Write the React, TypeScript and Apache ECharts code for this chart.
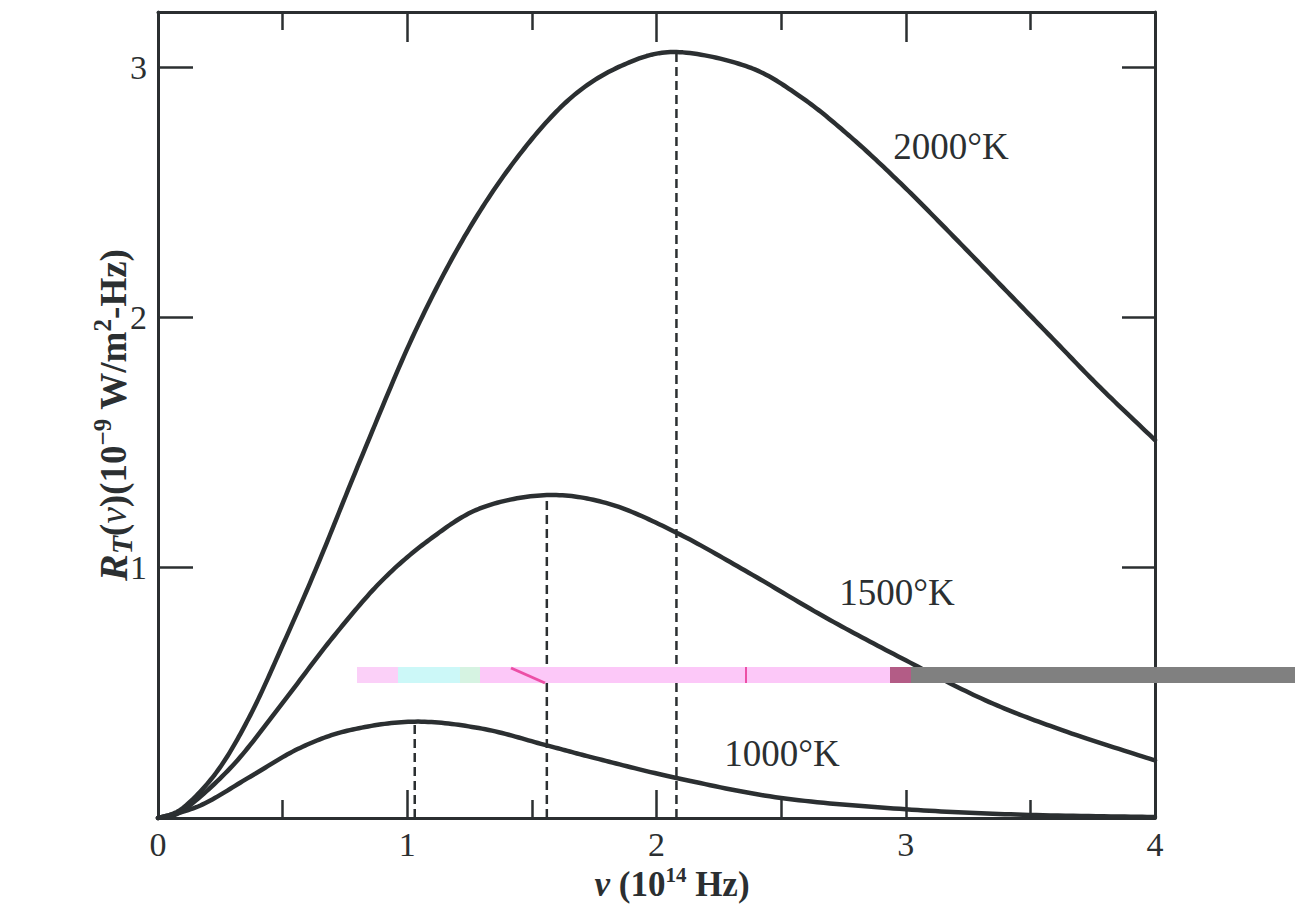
import React, { useEffect, useRef } from "react";
import * as echarts from "echarts";

// ---- data ----
const xTickValues = [0, 1, 2, 3, 4];
const yTickValues = [1, 2, 3];

const nu2000 = [0, 0.1, 0.24, 0.37, 0.5, 0.64, 0.82, 1.03, 1.24, 1.45, 1.66, 1.87, 2.08, 2.37, 2.58, 2.78, 2.98, 3.18, 3.38, 3.58, 3.78, 4.0];
const r2000 = [0, 0.04, 0.19, 0.41, 0.69, 1.01, 1.45, 1.94, 2.34, 2.65, 2.88, 3.01, 3.06, 3.0, 2.88, 2.72, 2.535, 2.335, 2.13, 1.925, 1.72, 1.51];

const nu1500 = [0, 0.1, 0.3, 0.5, 0.7, 0.9, 1.1, 1.3, 1.56, 1.81, 2.08, 2.37, 2.68, 3.0, 3.32, 3.63, 4.0];
const r1500 = [0, 0.03, 0.21, 0.46, 0.72, 0.95, 1.12, 1.24, 1.29, 1.255, 1.14, 0.98, 0.8, 0.63, 0.47, 0.35, 0.23];

const nu1000 = [0, 0.17, 0.37, 0.57, 0.77, 1.03, 1.3, 1.56, 1.77, 2.08, 2.5, 3.0, 3.47, 4.0];
const r1000 = [0, 0.05, 0.165, 0.28, 0.351, 0.385, 0.357, 0.29, 0.235, 0.16, 0.08, 0.035, 0.013, 0.004];

const curveNames = ["2000°K", "1500°K", "1000°K"];
const peakNu = [2.08, 1.56, 1.03];
const peakR = [3.06, 1.29, 0.385];

const INK = "#2b2f31";
const SERIF = "'Liberation Serif', 'DejaVu Serif', serif";

// Smooth curve through the data points (Catmull-Rom in pixel space, via the axes' scales)
function makeRenderCurve(nu: number[], r: number[]) {
  return (params: any, api: any) => {
    if (params.dataIndex !== 0) return null;
    const pts: number[][] = nu.map((v, i) => api.coord([v, r[i]]));
    const out: number[][] = [];
    const n = pts.length;
    for (let i = 0; i < n - 1; i++) {
      const p0 = pts[Math.max(i - 1, 0)];
      const p1 = pts[i];
      const p2 = pts[i + 1];
      const p3 = pts[Math.min(i + 2, n - 1)];
      const c1 = [p1[0] + (p2[0] - p0[0]) / 6, p1[1] + (p2[1] - p0[1]) / 6];
      const c2 = [p2[0] - (p3[0] - p1[0]) / 6, p2[1] - (p3[1] - p1[1]) / 6];
      const steps = 20;
      for (let s = 0; s < steps; s++) {
        const t = s / steps;
        const a = (1 - t) * (1 - t) * (1 - t);
        const b = 3 * (1 - t) * (1 - t) * t;
        const c = 3 * (1 - t) * t * t;
        const d = t * t * t;
        out.push([
          a * p1[0] + b * c1[0] + c * c2[0] + d * p2[0],
          a * p1[1] + b * c1[1] + c * c2[1] + d * p2[1],
        ]);
      }
    }
    out.push(pts[n - 1]);
    return {
      type: "polyline",
      silent: true,
      shape: { points: out },
      style: { stroke: INK, lineWidth: 4.5, fill: "none", lineJoin: "round", lineCap: "round" },
    };
  };
}

export default function App() {
  const ref = useRef<HTMLDivElement>(null);

  useEffect(() => {
    document.body.style.margin = "0";
    if (!ref.current) return;
    const chart = echarts.init(ref.current, null, { renderer: "svg" });

    const curves = [
      { nu: nu2000, r: r2000 },
      { nu: nu1500, r: r1500 },
      { nu: nu1000, r: r1000 },
    ];

    const curveSeries = curves.map((c, k) => ({
      name: curveNames[k],
      type: "custom",
      xAxisIndex: 0,
      yAxisIndex: 0,
      data: c.nu.map((v, i) => [v, c.r[i]]),
      encode: { x: 0, y: 1 },
      renderItem: makeRenderCurve(c.nu, c.r),
      z: 3,
    }));

    const dashSeries = peakNu.map((v, i) => ({
      name: curveNames[i] + " peak",
      type: "line",
      data: [
        [v, 0],
        [v, peakR[i]],
      ],
      showSymbol: false,
      lineStyle: { color: INK, width: 2.5, type: [9, 5] },
      z: 2,
    }));

    const baseAxisLine = { show: true, onZero: false, lineStyle: { color: INK, width: 3 } };

    const option: any = {
      animation: false,
      backgroundColor: "#ffffff",
      grid: { left: 158, right: 144, top: 12, bottom: 93, containLabel: false },
      xAxis: [
        {
          type: "value",
          position: "bottom",
          min: 0,
          max: 4,
          interval: 1,
          axisLine: baseAxisLine,
          axisTick: { show: true, inside: true, length: 28, lineStyle: { color: INK, width: 2.5 } },
          minorTick: { show: true, splitNumber: 2, length: 18, lineStyle: { color: INK, width: 2.5 } },
          axisLabel: {
            show: true,
            margin: 9,
            fontFamily: SERIF,
            fontSize: 34,
            color: INK,
            customValues: xTickValues,
          },
          splitLine: { show: false },
          minorSplitLine: { show: false },
        },
        {
          type: "value",
          position: "top",
          min: 0,
          max: 4,
          interval: 1,
          axisLine: baseAxisLine,
          axisTick: { show: true, inside: true, length: 30, lineStyle: { color: INK, width: 2.5 } },
          minorTick: { show: true, splitNumber: 2, length: 18, lineStyle: { color: INK, width: 2.5 } },
          axisLabel: { show: false },
          splitLine: { show: false },
        },
      ],
      yAxis: [
        {
          type: "value",
          position: "left",
          min: 0,
          max: 3.22,
          interval: 1,
          axisLine: baseAxisLine,
          axisTick: {
            show: true,
            inside: true,
            length: 35,
            lineStyle: { color: INK, width: 2.5 },
            customValues: yTickValues,
          },
          axisLabel: {
            show: true,
            margin: 11,
            fontFamily: SERIF,
            fontSize: 34,
            color: INK,
            customValues: yTickValues,
          },
          splitLine: { show: false },
        },
        {
          type: "value",
          position: "right",
          min: 0,
          max: 3.22,
          interval: 1,
          axisLine: baseAxisLine,
          axisTick: {
            show: true,
            inside: true,
            length: 33,
            lineStyle: { color: INK, width: 2.5 },
            customValues: yTickValues,
          },
          axisLabel: { show: false },
          splitLine: { show: false },
        },
      ],
      series: [...curveSeries, ...dashSeries],
      graphic: [
        // curve labels
        { type: "text", x: 951, y: 146, z: 10, style: { text: curveNames[0], font: `37px ${SERIF}`, fill: INK, align: "center", verticalAlign: "middle" } },
        { type: "text", x: 897, y: 592, z: 10, style: { text: curveNames[1], font: `37px ${SERIF}`, fill: INK, align: "center", verticalAlign: "middle" } },
        { type: "text", x: 782, y: 753, z: 10, style: { text: curveNames[2], font: `37px ${SERIF}`, fill: INK, align: "center", verticalAlign: "middle" } },
        // x-axis title
        {
          type: "text",
          x: 672,
          y: 883,
          z: 10,
          style: {
            text: "{i|ν }{n|(10}{s|14}{n| Hz)}",
            align: "center",
            verticalAlign: "middle",
            fill: INK,
            rich: {
              i: { fontFamily: SERIF, fontSize: 35, fontWeight: "bold", fontStyle: "italic", fill: INK, lineHeight: 38, verticalAlign: "bottom" },
              n: { fontFamily: SERIF, fontSize: 35, fontWeight: "bold", fill: INK, lineHeight: 38, verticalAlign: "bottom" },
              s: { fontFamily: SERIF, fontSize: 21, fontWeight: "bold", fill: INK, lineHeight: 21, verticalAlign: "top" },
            },
          },
        },
        // y-axis title
        {
          type: "text",
          x: 113,
          y: 415,
          rotation: Math.PI / 2,
          z: 10,
          style: {
            text: "{r|R}{sub|T}{n|(}{i|ν}{n|)(10}{sup|−9}{n| W/m}{sup|2}{n|-Hz)}",
            align: "center",
            verticalAlign: "middle",
            fill: INK,
            rich: {
              r: { fontFamily: SERIF, fontSize: 40, fontWeight: "bold", fontStyle: "italic", fill: INK, lineHeight: 46, verticalAlign: "middle" },
              sub: { fontFamily: SERIF, fontSize: 30, fontWeight: "bold", fontStyle: "italic", fill: INK, lineHeight: 30, verticalAlign: "bottom" },
              i: { fontFamily: SERIF, fontSize: 37, fontStyle: "italic", fill: INK, lineHeight: 46, verticalAlign: "middle" },
              n: { fontFamily: SERIF, fontSize: 37, fontWeight: "bold", fill: INK, lineHeight: 46, verticalAlign: "middle" },
              sup: { fontFamily: SERIF, fontSize: 25, fontWeight: "bold", fill: INK, lineHeight: 25, verticalAlign: "top" },
            },
          },
        },
        // scan artefact band
        { type: "rect", z: 20, shape: { x: 357, y: 667, width: 41, height: 16 }, style: { fill: "#fbd0f8" } },
        { type: "rect", z: 20, shape: { x: 398, y: 667, width: 62, height: 16 }, style: { fill: "#ccf8f8" } },
        { type: "rect", z: 20, shape: { x: 460, y: 667, width: 20, height: 16 }, style: { fill: "#d6f3e2" } },
        { type: "rect", z: 20, shape: { x: 480, y: 667, width: 410, height: 16 }, style: { fill: "#fcc8f8" } },
        { type: "line", z: 21, shape: { x1: 511, y1: 668, x2: 545, y2: 683 }, style: { stroke: "#ec4fa6", lineWidth: 3 } },
        { type: "rect", z: 21, shape: { x: 745, y: 667, width: 2, height: 16 }, style: { fill: "#ec4fa6" } },
        { type: "rect", z: 20, shape: { x: 890, y: 667, width: 21, height: 16 }, style: { fill: "#b35c86" } },
        { type: "rect", z: 20, shape: { x: 911, y: 667, width: 384, height: 16 }, style: { fill: "#808080" } },
      ],
    };

    chart.setOption(option);
    return () => chart.dispose();
  }, []);

  return <div ref={ref} style={{ width: 1299, height: 911 }} />;
}
